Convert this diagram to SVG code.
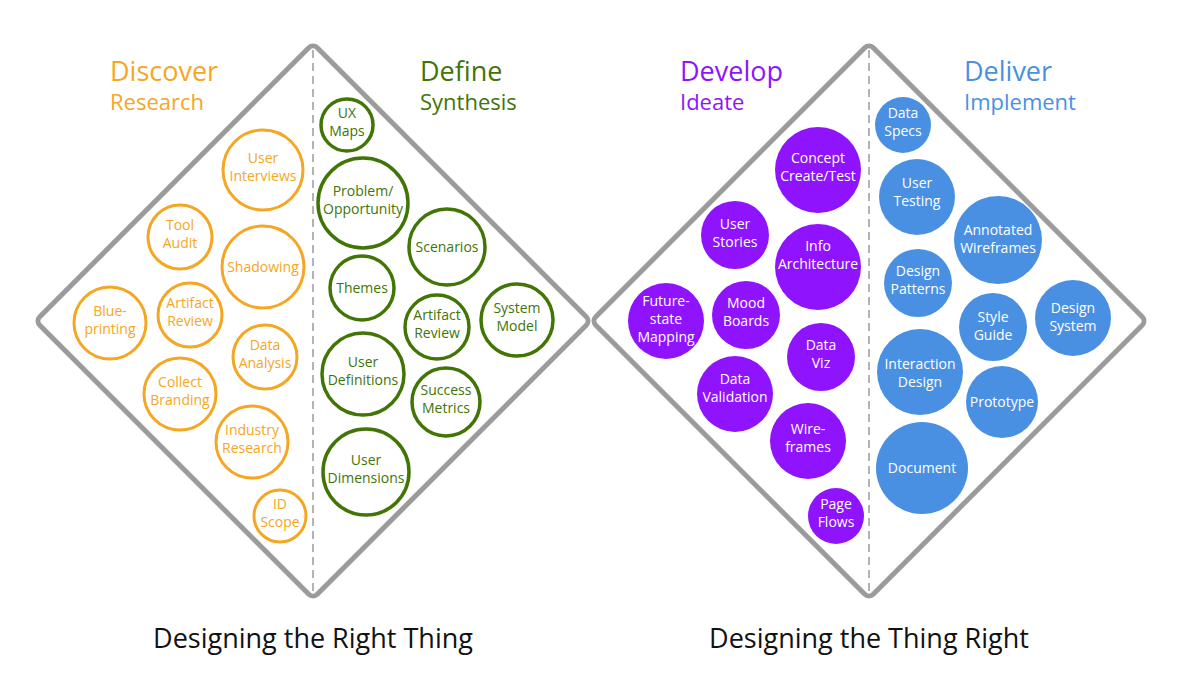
<svg xmlns="http://www.w3.org/2000/svg" width="1200" height="689" viewBox="0 0 1200 689">
<style>
text{font-family:"Open Sans","Noto Sans","Liberation Sans",sans-serif;}
.dia{fill:#fff;stroke:#9B9B9B;stroke-width:5;}
.sep{stroke:#9B9B9B;stroke-width:1.5;stroke-dasharray:8 5;fill:none;}
.o circle{fill:#fff;stroke:#F5A623;stroke-width:3;}
.o text{fill:#F5A623;}
.g circle{fill:#fff;stroke:#417505;stroke-width:3.5;}
.g text{fill:#417505;}
.p circle{fill:#9013FE;}
.p text{fill:#fff;}
.b circle{fill:#4A90E2;}
.b text{fill:#fff;}
.n text{font-size:14px;text-anchor:middle;}
.t1{font-size:27px;}
.t2{font-size:22px;}
.cap{font-size:27px;fill:#111;text-anchor:middle;}
</style>
<rect width="1200" height="689" fill="#fff"/>
<g id="diamond-right-thing">
<rect class="dia" x="116.8" y="124.8" width="392.4" height="392.4" rx="6" transform="rotate(45 313 321)"/>
</g>
<g id="diamond-thing-right">
<rect class="dia" x="672.8" y="124.8" width="392.4" height="392.4" rx="6" transform="rotate(45 869 321)"/>
</g>
<g id="connectors">
<line class="sep" x1="313" y1="50" x2="313" y2="594"/>
<line class="sep" x1="869" y1="50" x2="869" y2="594"/>
</g>
<g id="headings">
<g class="o"><text class="t1" x="110" y="81">Discover</text><text class="t2" x="110" y="110">Research</text></g>
<g class="g"><text class="t1" x="420" y="81">Define</text><text class="t2" x="420" y="110">Synthesis</text></g>
<g class="p"><text class="t1" x="680" y="81" style="fill:#9013FE">Develop</text><text class="t2" x="680" y="110" style="fill:#9013FE">Ideate</text></g>
<g class="b"><text class="t1" x="964" y="81" style="fill:#4A90E2">Deliver</text><text class="t2" x="964" y="110" style="fill:#4A90E2">Implement</text></g>
</g>
<g class="n o">
<g id="user-interviews"><circle cx="263" cy="170" r="40"/><text x="263" y="163">User</text><text x="263" y="181">Interviews</text></g>
<g id="tool-audit"><circle cx="180" cy="237" r="32"/><text x="180" y="230">Tool</text><text x="180" y="248">Audit</text></g>
<g id="shadowing"><circle cx="263" cy="267" r="41"/><text x="263" y="272">Shadowing</text></g>
<g id="blueprinting"><circle cx="110" cy="323" r="36"/><text x="110" y="316">Blue-</text><text x="110" y="334">printing</text></g>
<g id="artifact-review-1"><circle cx="190" cy="315" r="32"/><text x="190" y="308">Artifact</text><text x="190" y="326">Review</text></g>
<g id="data-analysis"><circle cx="265" cy="357" r="32"/><text x="265" y="350">Data</text><text x="265" y="368">Analysis</text></g>
<g id="collect-branding"><circle cx="180" cy="394" r="36"/><text x="180" y="387">Collect</text><text x="180" y="405">Branding</text></g>
<g id="industry-research"><circle cx="252" cy="442" r="36"/><text x="252" y="435">Industry</text><text x="252" y="453">Research</text></g>
<g id="id-scope"><circle cx="280" cy="516" r="26"/><text x="280" y="509">ID</text><text x="280" y="527">Scope</text></g>
</g>
<g class="n g">
<g id="ux-maps"><circle cx="347" cy="125" r="26"/><text x="347" y="118">UX</text><text x="347" y="136">Maps</text></g>
<g id="problem-opportunity"><circle cx="363" cy="203" r="45"/><text x="363" y="196">Problem/</text><text x="363" y="214">Opportunity</text></g>
<g id="scenarios"><circle cx="447" cy="247" r="38"/><text x="447" y="252">Scenarios</text></g>
<g id="themes"><circle cx="362" cy="288" r="32"/><text x="362" y="293">Themes</text></g>
<g id="system-model"><circle cx="517" cy="320" r="36"/><text x="517" y="313">System</text><text x="517" y="331">Model</text></g>
<g id="artifact-review-2"><circle cx="437" cy="327" r="32"/><text x="437" y="320">Artifact</text><text x="437" y="338">Review</text></g>
<g id="user-definitions"><circle cx="363" cy="374" r="41"/><text x="363" y="367">User</text><text x="363" y="385">Definitions</text></g>
<g id="success-metrics"><circle cx="446" cy="402" r="34"/><text x="446" y="395">Success</text><text x="446" y="413">Metrics</text></g>
<g id="user-dimensions"><circle cx="366" cy="472" r="43"/><text x="366" y="465">User</text><text x="366" y="483">Dimensions</text></g>
</g>
<g class="n p">
<g id="concept"><circle cx="818" cy="170" r="43"/><text x="818" y="163">Concept</text><text x="818" y="181">Create/Test</text></g>
<g id="user-stories"><circle cx="735" cy="235" r="34"/><text x="735" y="229">User</text><text x="735" y="247">Stories</text></g>
<g id="info-architecture"><circle cx="818" cy="267" r="43"/><text x="818" y="251">Info</text><text x="818" y="269">Architecture</text></g>
<g id="future-state"><circle cx="666" cy="321" r="38"/><text x="666" y="306">Future-</text><text x="666" y="324">state</text><text x="666" y="342">Mapping</text></g>
<g id="mood-boards"><circle cx="746" cy="315" r="34"/><text x="746" y="308">Mood</text><text x="746" y="326">Boards</text></g>
<g id="data-viz"><circle cx="821" cy="357" r="34"/><text x="821" y="350">Data</text><text x="821" y="368">Viz</text></g>
<g id="data-validation"><circle cx="735" cy="394" r="38"/><text x="735" y="384">Data</text><text x="735" y="402">Validation</text></g>
<g id="wireframes-1"><circle cx="808" cy="441" r="38"/><text x="808" y="434">Wire-</text><text x="808" y="452">frames</text></g>
<g id="page-flows"><circle cx="836" cy="516" r="28"/><text x="836" y="509">Page</text><text x="836" y="527">Flows</text></g>
</g>
<g class="n b">
<g id="data-specs"><circle cx="903" cy="125" r="28"/><text x="903" y="118">Data</text><text x="903" y="136">Specs</text></g>
<g id="user-testing"><circle cx="917" cy="197" r="38"/><text x="917" y="188">User</text><text x="917" y="206">Testing</text></g>
<g id="annotated-wireframes"><circle cx="998" cy="240" r="44"/><text x="998" y="235">Annotated</text><text x="998" y="253">Wireframes</text></g>
<g id="design-patterns"><circle cx="918" cy="283" r="34"/><text x="918" y="276">Design</text><text x="918" y="294">Patterns</text></g>
<g id="design-system"><circle cx="1073" cy="318" r="38"/><text x="1073" y="313">Design</text><text x="1073" y="331">System</text></g>
<g id="style-guide"><circle cx="993" cy="327" r="34"/><text x="993" y="322">Style</text><text x="993" y="340">Guide</text></g>
<g id="interaction-design"><circle cx="920" cy="372" r="43"/><text x="920" y="369">Interaction</text><text x="920" y="387">Design</text></g>
<g id="prototype"><circle cx="1002" cy="402" r="36"/><text x="1002" y="407">Prototype</text></g>
<g id="document"><circle cx="922" cy="468" r="46"/><text x="922" y="473">Document</text></g>
</g>
<g id="captions">
<text class="cap" x="313" y="648">Designing the Right Thing</text>
<text class="cap" x="869" y="648">Designing the Thing Right</text>
</g>
</svg>
